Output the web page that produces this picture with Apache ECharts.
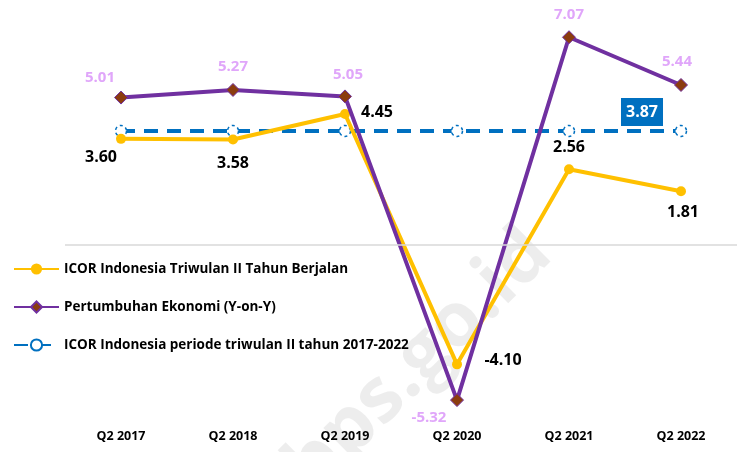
<!DOCTYPE html>
<html>
<head>
<meta charset="utf-8">
<style>
  html, body { margin: 0; padding: 0; background: #fff; }
  #chart { width: 737px; height: 452px; }
</style>
<script src="https://cdn.jsdelivr.net/npm/echarts@6/dist/echarts.min.js"></script>
</head>
<body>
<div id="chart"></div>
<script>
const categories = ['Q2 2017', 'Q2 2018', 'Q2 2019', 'Q2 2020', 'Q2 2021', 'Q2 2022']
const icorValues = [3.60, 3.58, 4.45, -4.10, 2.56, 1.81]
const growthValues = [5.01, 5.27, 5.05, -5.32, 7.07, 5.44]
const icorAverage = [3.87, 3.87, 3.87, 3.87, 3.87, 3.87]

// label offsets (label centre minus point)
const icorOffsets = [[-20, 19], [0, 24], [32, -2], [46, -4], [0, -22], [2, 21]]
const growthOffsets = [[-21, -20], [0, -23], [3, -22], [-28, 18], [0, -23], [-4, -23]]

const FONT = '"Open Sans", sans-serif'

const chart = echarts.init(document.getElementById('chart'))

function labelled(values, offsets) {
  return values.map((v, i) => ({
    value: v,
    label: { offset: offsets[i] }
  }))
}

const option = {
  animation: false,
  textStyle: { fontFamily: FONT },
  graphic: [{
    type: 'text',
    left: 272,
    top: 215,
    rotation: 0.78,
    silent: true,
    z: 0,
    style: {
      text: 'bps.go.id',
      fontSize: 76,
      fontWeight: 'bold',
      fontFamily: FONT,
      fill: 'rgba(0,0,0,0.07)'
    }
  }],
  legend: {
    orient: 'vertical',
    left: 8,
    top: 257,
    itemWidth: 45,
    itemHeight: 14,
    itemGap: 24,
    textStyle: { fontSize: 13.5, fontWeight: 'bold', color: '#000', fontFamily: FONT }
  },
  grid: { left: 65, right: 0, top: 10, bottom: 32 },
  xAxis: {
    type: 'category',
    data: categories,
    axisLine: { show: false, onZero: false },
    axisTick: { show: false },
    axisLabel: { margin: 10, fontSize: 12.5, fontWeight: 'bold', color: '#000', fontFamily: FONT }
  },
  yAxis: {
    type: 'value',
    min: -6,
    max: 8,
    show: false
  },
  series: [
    {
      name: 'ICOR Indonesia Triwulan II Tahun Berjalan',
      type: 'line',
      data: labelled(icorValues, icorOffsets),
      symbol: 'circle',
      symbolSize: 10,
      z: 3,
      lineStyle: { color: '#ffc000', width: 4 },
      itemStyle: { color: '#ffc000' },
      label: {
        show: true,
        position: 'inside',
        formatter: p => p.value.toFixed(2),
        fontSize: 16,
        fontWeight: 'bold',
        color: '#000',
        fontFamily: FONT
      },
      markLine: {
        silent: true,
        symbol: 'none',
        label: { show: false },
        lineStyle: { color: '#d9d9d9', width: 1.5, type: 'solid' },
        data: [{ yAxis: 0 }]
      }
    },
    {
      name: 'Pertumbuhan Ekonomi (Y-on-Y)',
      type: 'line',
      data: labelled(growthValues, growthOffsets),
      symbol: 'diamond',
      symbolSize: 13,
      z: 4,
      lineStyle: { color: '#7030a0', width: 4 },
      itemStyle: { color: '#8b3c0f', borderColor: '#7030a0', borderWidth: 1 },
      label: {
        show: true,
        position: 'inside',
        formatter: p => p.value.toFixed(2),
        fontSize: 15,
        fontWeight: 'bold',
        color: '#e0a6fa',
        fontFamily: FONT
      }
    },
    {
      name: 'ICOR Indonesia periode triwulan II tahun 2017-2022',
      type: 'line',
      data: icorAverage.map((v, i) => ({
        value: v,
        label: { show: i === icorAverage.length - 1 }
      })),
      symbol: 'circle',
      symbolSize: 11,
      z: 2,
      lineStyle: { color: '#0070c0', width: 4, type: [14, 9] },
      itemStyle: { color: '#fff', borderColor: '#0070c0', borderWidth: 1.5, borderType: [3, 3] },
      label: {
        show: false,
        position: 'inside',
        offset: [-39, -19],
        formatter: p => p.value.toFixed(2),
        fontSize: 16,
        fontWeight: 'bold',
        color: '#fff',
        backgroundColor: '#0070c0',
        padding: [6, 5, 6, 5],
        fontFamily: FONT
      }
    }
  ]
}

chart.setOption(option)
window.addEventListener('resize', () => chart.resize())
</script>
</body>
</html>
